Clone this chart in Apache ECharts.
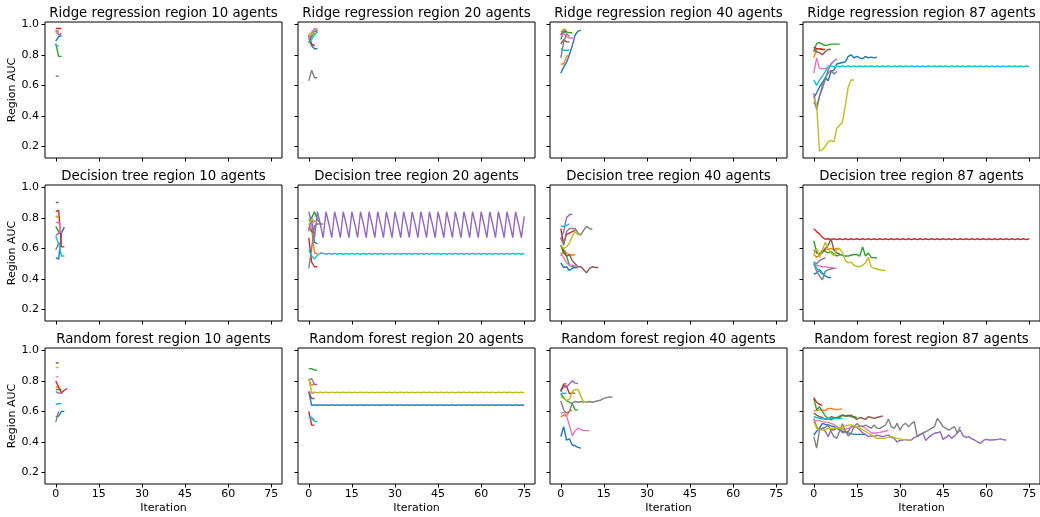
<!DOCTYPE html>
<html><head><meta charset="utf-8">
<script src="https://cdn.jsdelivr.net/npm/echarts@6/dist/echarts.min.js"></script>
<style>html,body{margin:0;padding:0;background:#fff}#c{width:1040px;height:517px}</style>
</head><body><div id="c"></div>
<script>
// ---------- data (one array per colour, index = iteration) ----------
const xTickValues = [0, 15, 30, 45, 60, 75];
const yTickValues = [0.2, 0.4, 0.6, 0.8, 1.0];
const colors = ['#1f77b4','#ff7f0e','#2ca02c','#d62728','#9467bd','#8c564b','#e377c2','#7f7f7f','#bcbd22','#17becf'];
const titles = [
  'Ridge regression region 10 agents','Ridge regression region 20 agents','Ridge regression region 40 agents','Ridge regression region 87 agents',
  'Decision tree region 10 agents','Decision tree region 20 agents','Decision tree region 40 agents','Decision tree region 87 agents',
  'Random forest region 10 agents','Random forest region 20 agents','Random forest region 40 agents','Random forest region 87 agents'
];

const ridge10 = [
  [0.89,0.92,0.925],
  [0.95,0.95],
  [0.875,0.79,0.79],
  [0.972,0.972,0.972],
  [0.96,0.93,0.94],
  [0.955,0.955],
  [0.945,0.94],
  [0.66,0.66],
  [0.95,0.95],
  [0.86,0.86]
];
const ridge20 = [
  [0.92,0.86,0.84,0.84],
  [0.90,0.93,0.95,0.96],
  [0.88,0.92,0.95,0.96],
  [0.93,0.87,0.86],
  [0.91,0.94,0.97,0.97],
  [0.89,0.87,0.86],
  [0.90,0.95,0.97,0.97],
  [0.63,0.70,0.65,0.65],
  [0.94,0.93,0.95],
  [0.88,0.90,0.93,0.95]
];
const ridge40 = [
  [0.68,0.72,0.75,0.80,0.86,0.93,0.955,0.96],
  [0.74,0.74,0.79,0.80],
  [0.90,0.95,0.95,0.945,0.945],
  [0.93,0.96,0.95],
  [0.93,0.96,0.955],
  [0.87,0.90,0.885,0.885],
  [0.92,0.94,0.92,0.91,0.91,0.91],
  [0.78,0.88,0.94,0.92],
  [0.95,0.97,0.965],
  [0.84,0.83,0.83,0.83]
];
const ridge87 = [
  [0.52,0.55,0.59,0.62,0.65,0.63,0.69,0.70,0.74,0.745,0.75,0.755,0.79,0.80,0.78,0.79,0.78,0.775,0.79,0.78,0.785,0.78,0.785],
  [0.78,0.84,0.84,0.84],
  [0.82,0.875,0.88,0.87,0.86,0.865,0.87,0.87,0.87,0.87],
  [0.85,0.84,0.84,0.835,0.835],
  [0.55,0.44,0.53,0.58,0.64,0.70,0.74,0.76,0.775],
  [0.84,0.82,0.815,0.80,0.82,0.835,0.835],
  [0.68,0.78,0.71,0.71,0.71,0.71],
  [0.49,0.46,0.53,0.60,0.65,0.68,0.70,0.675,0.69],
  [0.515,0.47,0.17,0.18,0.20,0.23,0.24,0.23,0.32,0.34,0.36,0.47,0.59,0.635,0.635],
  [0.635,0.60,0.635,0.66,0.69,0.726,
   0.728,0.722,0.728,0.722,0.728,0.722,0.728,0.722,0.728,0.722,
   0.728,0.722,0.728,0.722,0.728,0.722,0.728,0.722,0.728,0.722,
   0.728,0.722,0.728,0.722,0.728,0.722,0.728,0.722,0.728,0.722,
   0.728,0.722,0.728,0.722,0.728,0.722,0.728,0.722,0.728,0.722,
   0.728,0.722,0.728,0.722,0.728,0.722,0.728,0.722,0.728,0.722,
   0.728,0.722,0.728,0.722,0.728,0.722,0.728,0.722,0.728,0.722,
   0.728,0.722,0.728,0.722,0.728,0.722,0.728,0.722,0.728,0.722]
];

const tree10 = [
  [0.54,0.53,0.70,0.74],
  [0.81,0.81],
  [0.745,0.71,0.69],
  [0.84,0.85,0.61,0.61],
  [0.685,0.70,0.71],
  [0.90,0.90],
  [0.77,0.77,0.70],
  [0.59,0.635,0.62],
  [0.81,0.80],
  [0.68,0.63,0.55,0.55]
];
const tree20 = [
  [0.72,0.80,0.64,0.63],
  [0.745,0.73,0.57,0.565],
  [0.78,0.80,0.84,0.79,0.765],
  [0.67,0.51,0.48,0.48],
  [0.84,0.76,0.67,0.84,0.76,0.67,0.84,0.76,0.67,0.84,0.76,0.67,0.84,0.76,0.67,
   0.84,0.76,0.67,0.84,0.76,0.67,0.84,0.76,0.67,0.84,0.76,0.67,0.84,0.76,0.67,
   0.84,0.76,0.67,0.84,0.76,0.67,0.84,0.76,0.67,0.84,0.76,0.67,0.84,0.76,0.67,
   0.84,0.76,0.67,0.84,0.76,0.67,0.84,0.76,0.67,0.84,0.76,0.67,0.84,0.76,0.67,
   0.84,0.76,0.67,0.84,0.76,0.67,0.84,0.76,0.67,0.84,0.76,0.67,0.84,0.76,0.67,0.81],
  [0.74,0.71,0.70],
  [0.71,0.76,0.78,0.77],
  [0.47,0.60,0.75,0.76,0.76,0.76],
  [0.755,0.79,0.78],
  [0.59,0.55,0.53,0.555,0.57,
   0.568,0.562,0.568,0.562,0.568,0.562,0.568,0.562,0.568,0.562,
   0.568,0.562,0.568,0.562,0.568,0.562,0.568,0.562,0.568,0.562,
   0.568,0.562,0.568,0.562,0.568,0.562,0.568,0.562,0.568,0.562,
   0.568,0.562,0.568,0.562,0.568,0.562,0.568,0.562,0.568,0.562,
   0.568,0.562,0.568,0.562,0.568,0.562,0.568,0.562,0.568,0.562,
   0.568,0.562,0.568,0.562,0.568,0.562,0.568,0.562,0.568,0.562,
   0.568,0.562,0.568,0.562,0.568,0.562,0.568,0.562,0.568,0.562,0.568]
];
const tree40 = [
  [0.505,0.475,0.48,0.455,0.47,0.475,0.475],
  [0.55,0.59,0.57,0.56,0.555,0.56],
  [0.62,0.57,0.55,0.49,0.48,0.48],
  [0.73,0.63,0.69,0.70,0.71,0.72],
  [0.66,0.71,0.80,0.82,0.825],
  [0.62,0.59,0.55,0.56,0.52,0.50,0.48,0.48,0.46,0.44,0.47,0.48,0.475,0.475],
  [0.57,0.54,0.505,0.49,0.49,0.485,0.48],
  [0.67,0.62,0.71,0.73,0.73,0.73,0.70,0.69,0.72,0.745,0.73,0.725],
  [0.62,0.60,0.61,0.635,0.68,0.71,0.69,0.685],
  [0.745,0.745,0.75,0.76]
];
const tree87 = [
  [0.43,0.44,0.46,0.44,0.42,0.41,0.41],
  [0.56,0.54,0.56,0.58,0.59,0.595,0.60,0.59,0.60,0.60],
  [0.65,0.576,0.56,0.59,0.58,0.57,0.58,0.565,0.55,0.56,0.555,0.55,0.55,0.555,0.56,0.56,0.55,0.61,0.55,0.57,0.54,0.54,0.537],
  [0.728,0.71,0.695,0.672,0.66,
   0.663,0.657,0.663,0.657,0.663,0.657,0.663,0.657,0.663,0.657,
   0.663,0.657,0.663,0.657,0.663,0.657,0.663,0.657,0.663,0.657,
   0.663,0.657,0.663,0.657,0.663,0.657,0.663,0.657,0.663,0.657,
   0.663,0.657,0.663,0.657,0.663,0.657,0.663,0.657,0.663,0.657,
   0.663,0.657,0.663,0.657,0.663,0.657,0.663,0.657,0.663,0.657,
   0.663,0.657,0.663,0.657,0.663,0.657,0.663,0.657,0.663,0.657,
   0.663,0.657,0.663,0.657,0.663,0.657,0.663,0.657,0.663,0.657,0.663],
  [0.51,0.50,0.52,0.53,0.54],
  [0.59,0.57,0.56,0.57,0.60,0.62,0.663,0.59,0.57,0.565],
  [0.50,0.49,0.485,0.48,0.48,0.475,0.475,0.47,0.47],
  [0.50,0.45,0.42,0.395,0.45,0.46,0.465,0.47],
  [0.56,0.60,0.54,0.59,0.64,0.60,0.57,0.55,0.59,0.60,0.57,0.52,0.505,0.51,0.49,0.483,0.48,0.49,0.505,0.54,0.48,0.47,0.465,0.46,0.456,0.456],
  [0.51,0.47,0.45,0.43,0.42]
];

const forest10 = [
  [0.565,0.57,0.60,0.60],
  [0.76,0.76],
  [0.743,0.743,0.743],
  [0.80,0.76,0.72,0.74,0.75],
  [0.73,0.72,0.72],
  [0.917,0.917],
  [0.826,0.826],
  [0.53,0.60],
  [0.887,0.887],
  [0.645,0.65,0.65]
];
const forest20 = [
  [0.73,0.64,
   0.643,0.640,0.643,0.640,0.643,0.640,0.643,0.640,0.643,0.640,
   0.643,0.640,0.643,0.640,0.643,0.640,0.643,0.640,0.643,0.640,
   0.643,0.640,0.643,0.640,0.643,0.640,0.643,0.640,0.643,0.640,
   0.643,0.640,0.643,0.640,0.643,0.640,0.643,0.640,0.643,0.640,
   0.643,0.640,0.643,0.640,0.643,0.640,0.643,0.640,0.643,0.640,
   0.643,0.640,0.643,0.640,0.643,0.640,0.643,0.640,0.643,0.640,
   0.643,0.640,0.643,0.640,0.643,0.640,0.643,0.640,0.643,0.640,
   0.643,0.640,0.643,0.640],
  [0.81,0.77,0.78],
  [0.88,0.88,0.87,0.87],
  [0.60,0.51,0.51],
  [0.805,0.815,0.776,0.776],
  [0.73,0.685,0.685],
  [0.73,0.72,0.72],
  [0.565,0.56,0.54],
  [0.815,0.724,
   0.726,0.722,0.726,0.722,0.726,0.722,0.726,0.722,0.726,0.722,
   0.726,0.722,0.726,0.722,0.726,0.722,0.726,0.722,0.726,0.722,
   0.726,0.722,0.726,0.722,0.726,0.722,0.726,0.722,0.726,0.722,
   0.726,0.722,0.726,0.722,0.726,0.722,0.726,0.722,0.726,0.722,
   0.726,0.722,0.726,0.722,0.726,0.722,0.726,0.722,0.726,0.722,
   0.726,0.722,0.726,0.722,0.726,0.722,0.726,0.722,0.726,0.722,
   0.726,0.722,0.726,0.722,0.726,0.722,0.726,0.722,0.726,0.722,
   0.726,0.722,0.726,0.722],
  [0.565,0.555,0.533,0.533]
];
const forest40 = [
  [0.435,0.50,0.413,0.42,0.38,0.375,0.365,0.36],
  [0.565,0.575,0.57,0.60,0.61],
  [0.717,0.69,0.67,0.66,0.65,0.61,0.61],
  [0.74,0.77,0.765,0.717,0.72,0.72],
  [0.73,0.76,0.76,0.78,0.80,0.785,0.783],
  [0.73,0.78,0.78],
  [0.587,0.595,0.57,0.51,0.44,0.474,0.49,0.48,0.474,0.474,0.474],
  [0.67,0.61,0.59,0.60,0.655,0.665,0.66,0.665,0.66,0.66,0.665,0.66,0.665,0.67,0.675,0.685,0.69,0.695,0.693],
  [0.695,0.685,0.67,0.68,0.73,0.743,0.743,0.70,0.66,0.66],
  [0.717,0.72,0.717]
];
const forest87 = [
  [0.446,0.47,0.49,0.522,0.515,0.511,0.505,0.50,0.49,0.478,0.47,0.467,0.46,0.455,0.45,0.45,0.45,0.45,0.45],
  [0.605,0.605,0.61,0.61,0.605,0.62,0.62,0.615,0.61,0.615,0.615],
  [0.685,0.61,0.63,0.60,0.57,0.555,0.545,0.555,0.56,0.57,0.575,0.57,0.575,0.565,0.565,0.56],
  [0.69,0.66,0.645,0.64],
  [0.554,0.50,0.478,0.49,0.47,0.435,0.48,0.478,0.49,0.49,0.46,0.465,0.47,0.50,0.50,0.495,0.48,0.46,0.45,0.435,
   0.44,0.435,0.445,0.44,0.435,0.44,0.446,0.43,0.424,0.40,0.41,0.413,0.417,0.41,0.413,0.43,0.435,0.45,0.457,0.41,
   0.43,0.445,0.457,0.46,0.467,0.417,0.43,0.446,0.424,0.44,0.46,0.478,0.44,0.43,0.435,0.42,0.413,0.40,0.391,0.41,
   0.417,0.413,0.413,0.415,0.417,0.42,0.415,0.413],
  [0.59,0.576,0.565,0.56,0.548,0.55,0.565,0.56,0.554,0.56,0.576,0.57,0.57,0.576,0.56,0.548,0.56,0.555,0.548,0.565,0.56,0.554,0.56,0.565,0.57],
  [0.543,0.54,0.54,0.533,0.53,0.528,0.522,0.515,0.50,0.49,0.483,0.485,0.489,0.495,0.50,0.50,0.502,0.504,0.49,0.475,0.46,0.457,0.46,0.463,0.467,0.47,0.478],
  [0.435,0.36,0.48,0.49,0.495,0.51,0.47,0.435,0.424,0.47,0.52,0.47,0.44,0.457,0.50,0.52,0.505,0.50,0.511,0.50,
   0.489,0.511,0.49,0.489,0.50,0.511,0.55,0.50,0.489,0.522,0.478,0.511,0.522,0.50,0.52,0.533,0.435,0.446,0.46,0.467,
   0.478,0.49,0.50,0.554,0.53,0.50,0.49,0.478,0.49,0.50,0.457,0.50],
  [0.533,0.49,0.478,0.48,0.478,0.49,0.489,0.49,0.49,0.49,0.495,0.504,0.51,0.511,0.505,0.50,0.489,0.48,0.47,0.457,
   0.446,0.435,0.424,0.424,0.424,0.425,0.43,0.435,0.43,0.424,0.42,0.417,0.415,0.413,0.413],
  [0.565,0.56,0.555,0.55,0.552,0.555,0.554,0.554,0.553,0.554,0.554]
];

const panelData = [ridge10, ridge20, ridge40, ridge87, tree10, tree20, tree40, tree87, forest10, forest20, forest40, forest87];

// ---------- layout ----------
const colLeft = [45, 298, 550, 803];
const rowTop = [22, 185, 348];
const W = 237, H = 136;
const FONT = 'DejaVu Sans';

const grid = [], xAxis = [], yAxis = [], title = [], series = [];
panelData.forEach((lines, k) => {
  const r = Math.floor(k / 4), c = k % 4;
  grid.push({left: colLeft[c], top: rowTop[r], width: W, height: H, show: true,
    borderColor: '#000', borderWidth: 1, backgroundColor: 'transparent'});
  xAxis.push({
    type: 'value', gridIndex: k, min: -3.75, max: 78.75, position: 'bottom',
    axisLine: {show: false, onZero: false}, splitLine: {show: false},
    axisTick: {show: true, customValues: xTickValues, length: 3.5, lineStyle: {color: '#000', width: 1}},
    axisLabel: {show: r === 2, customValues: xTickValues, color: '#000', fontSize: 11, fontFamily: FONT, margin: 5},
    name: r === 2 ? 'Iteration' : '', nameLocation: 'middle', nameGap: 19,
    nameTextStyle: {color: '#000', fontSize: 11, fontFamily: FONT}
  });
  yAxis.push({
    type: 'value', gridIndex: k, min: 0.125, max: 1.015, position: 'left',
    axisLine: {show: false, onZero: false}, splitLine: {show: false},
    axisTick: {show: true, customValues: yTickValues, length: 3.5, lineStyle: {color: '#000', width: 1}},
    axisLabel: {show: c === 0, customValues: yTickValues, color: '#000', fontSize: 11, fontFamily: FONT, margin: 6,
      formatter: v => v.toFixed(1)},
    name: c === 0 ? 'Region AUC' : '', nameLocation: 'middle', nameGap: 21, nameRotate: 90,
    nameTextStyle: {color: '#000', fontSize: 11, fontFamily: FONT}
  });
  title.push({text: titles[k], left: colLeft[c] + W / 2, top: rowTop[r] - 15, textAlign: 'center', padding: 0,
    textStyle: {color: '#000', fontSize: 13.3, fontWeight: 'normal', fontFamily: FONT}});
  lines.forEach((vals, i) => {
    if (!vals.length) return;
    series.push({
      type: 'line', xAxisIndex: k, yAxisIndex: k, showSymbol: false, symbol: 'none',
      data: vals.map((v, j) => [j, v]),
      lineStyle: {color: colors[i], width: 1.4}, itemStyle: {color: colors[i]},
      clip: true, silent: true
    });
  });
});

const chart = echarts.init(document.getElementById('c'), null, {renderer: 'canvas'});
chart.setOption({animation: false, backgroundColor: '#fff', title, grid, xAxis, yAxis, series});
</script>
</body></html>
